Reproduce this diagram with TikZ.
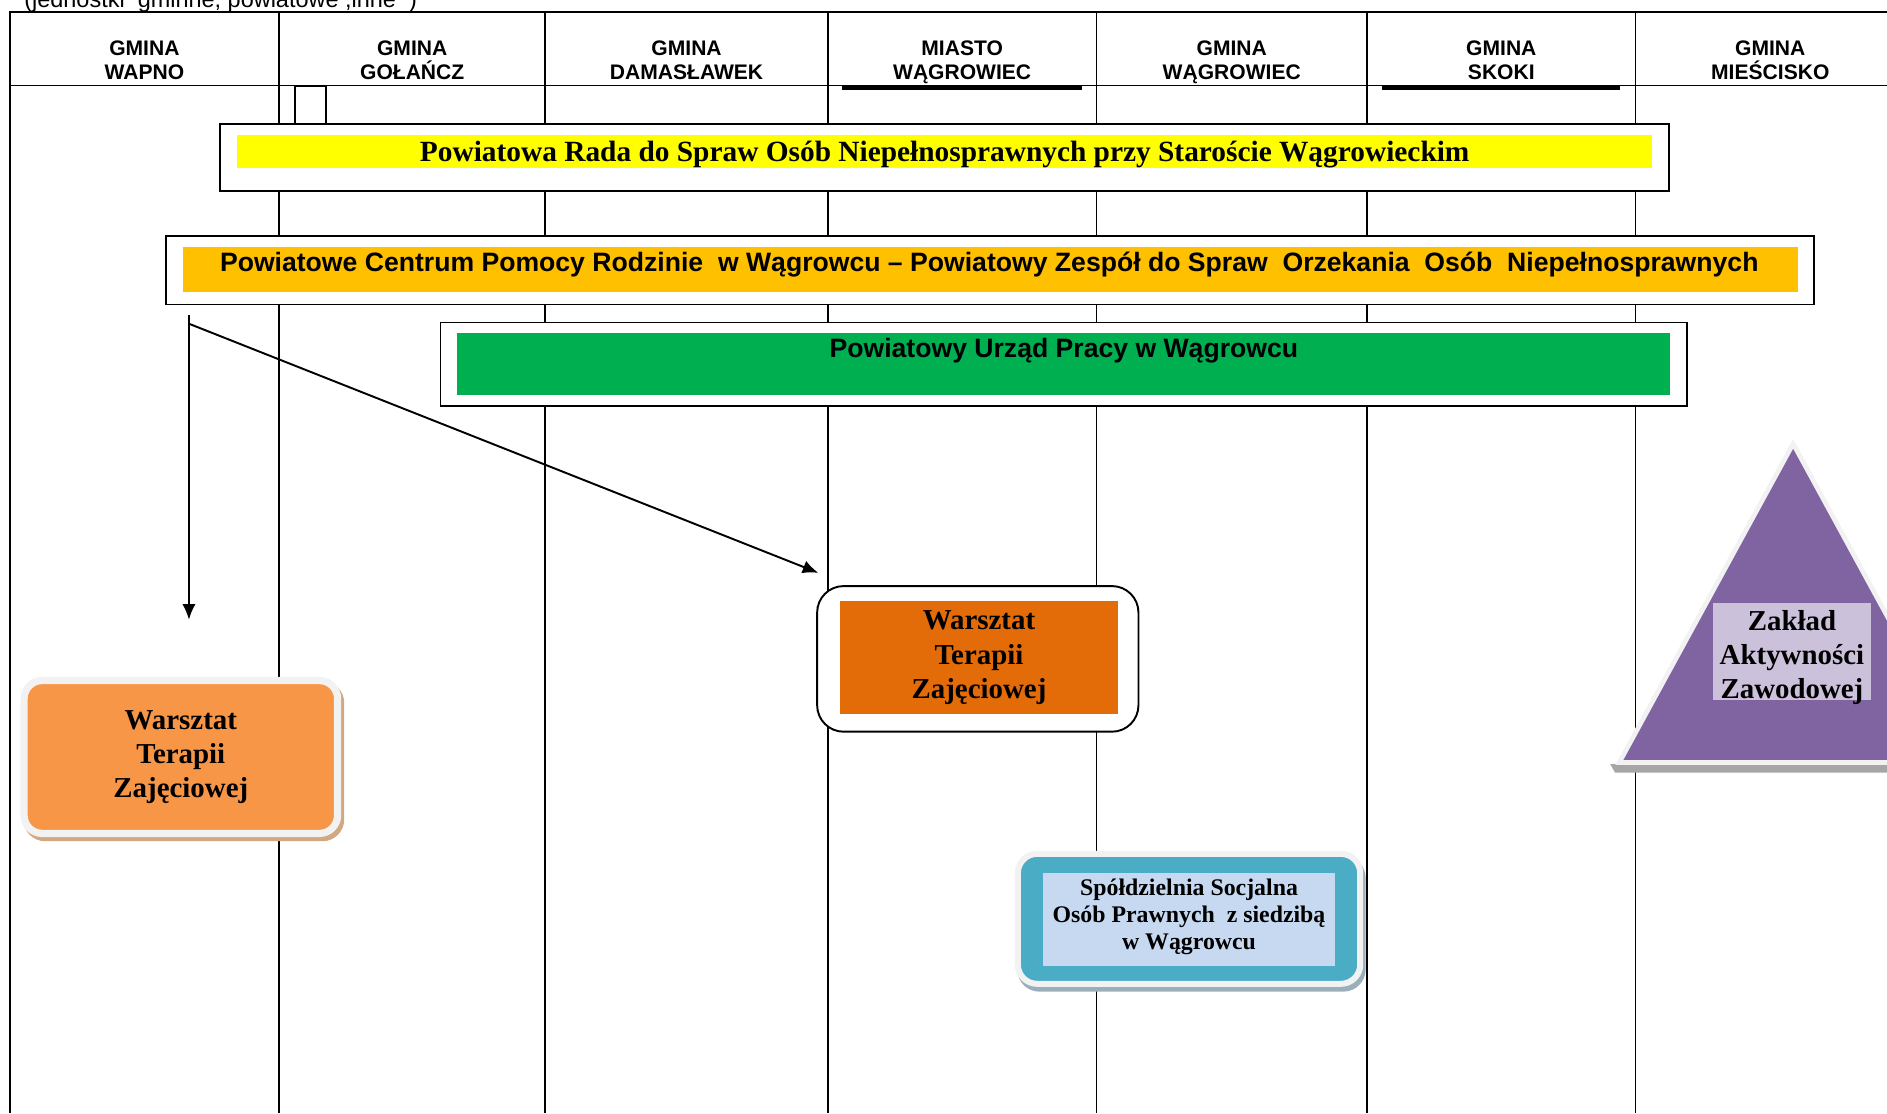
\documentclass[tikz,border=0pt]{standalone}
\usepackage{fontspec}
\setmainfont{Liberation Serif}
\setsansfont{Liberation Sans}
\usepackage{tikz}
\usepackage{color}
\usetikzlibrary{shapes.geometric, arrows.meta, shadows}
\definecolor{zolty}{HTML}{FFFF00}
\definecolor{pomPCPR}{HTML}{FFC000}
\definecolor{zielony}{HTML}{00B050}
\definecolor{pomJasny}{HTML}{F79646}
\definecolor{pomCiemny}{HTML}{E36C09}
\definecolor{turkus}{HTML}{4BACC6}
\definecolor{niebJasny}{HTML}{C6D9F1}
\definecolor{fiolet}{HTML}{8064A2}
\definecolor{lawenda}{HTML}{CCC1DA}
\definecolor{poswiata}{HTML}{F2F2F2}
\definecolor{cienWTZ}{HTML}{D2A883}
\definecolor{cienSS}{HTML}{9AAFBB}
\definecolor{cienZAZ}{HTML}{A6A6A6}
\tikzstyle{arrow} = [line width=1.6pt,-{Latex[length=13pt,width=11pt]}]
\tikzstyle{kolumna} = [line width=1.2pt]
\tikzstyle{naglowek} = [font=\sffamily\bfseries\fontsize{17.5}{20}\selectfont, align=center, inner sep=0pt, anchor=north]
\tikzstyle{ramka} = [draw, fill=white, line width=1.6pt, inner sep=0pt]
\tikzstyle{pasek} = [inner sep=0pt]
\tikzstyle{tekstsans} = [font=\sffamily\bfseries\fontsize{22.1}{26}\selectfont, inner sep=0pt, anchor=base]
\tikzstyle{tekstszeryf} = [font=\bfseries\fontsize{24.4}{28}\selectfont, inner sep=0pt, anchor=base]
\tikzstyle{wtz} = [font=\bfseries\fontsize{24}{28.5}\selectfont, align=center, inner sep=0pt]

\begin{document}
\begin{tikzpicture}[x=1pt,y=-1pt]
\useasboundingbox (0,0) rectangle (1568,925);
\node[font=\sffamily\fontsize{19.5}{22}\selectfont, anchor=base west, inner sep=0pt] (opis) at (20,6) {(jednostki~ gminne, powiatowe ,inne~ )};
% naglowek tabeli
\draw[line width=1.5pt] (8,925) -- (8,10) -- (1568,10);
\draw[line width=1.5pt] (8,71) -- (1568,71);
\draw[kolumna] (232,10) -- (232,925);
\draw[kolumna] (453,10) -- (453,925);
\draw[kolumna] (688,10) -- (688,925);
\draw[kolumna] (911,10) -- (911,925);
\draw[kolumna] (1136,10) -- (1136,925);
\draw[kolumna] (1359,10) -- (1359,925);
\draw[line width=3pt] (700,73) -- (899,73);
\draw[line width=3pt] (1148,73) -- (1346,73);
\draw[kolumna] (245,72) rectangle (271,103);
\node[naglowek] (wapno) at (120,33.5) {GMINA\\WAPNO};
\node[naglowek] (golancz) at (342.5,33.5) {GMINA\\GOŁAŃCZ};
\node[naglowek] (damaslawek) at (570.5,33.5) {GMINA\\DAMASŁAWEK};
\node[naglowek] (miasto) at (799.5,33.5) {MIASTO\\WĄGROWIEC};
\node[naglowek] (gminawagr) at (1023.5,33.5) {GMINA\\WĄGROWIEC};
\node[naglowek] (skoki) at (1247.5,33.5) {GMINA\\SKOKI};
\node[naglowek] (miescisko) at (1471,33.5) {GMINA\\MIEŚCISKO};
% jednostki powiatowe
\node[ramka, minimum width=1204pt, minimum height=56pt] (rada) at (785,131) {};
\node[pasek, fill=zolty, minimum width=1176pt, minimum height=28pt] (radapasek) at (785,126) {};
\node[tekstszeryf] (radatekst) at (785,134.5) {Powiatowa Rada do Spraw Osób Niepełnosprawnych przy Staroście Wągrowieckim};
\node[ramka, minimum width=1369pt, minimum height=57pt] (pcpr) at (822.5,224.5) {};
\node[pasek, fill=pomPCPR, minimum width=1342pt, minimum height=38pt] (pcprpasek) at (823,224) {};
\node[tekstsans] (pcprtekst) at (822,226) {Powiatowe Centrum Pomocy Rodzinie~ w Wągrowcu – Powiatowy Zespół do Spraw~ Orzekania~ Osób~ Niepełnosprawnych};
\node[ramka, minimum width=1036pt, minimum height=69pt] (pup) at (884,302.5) {};
\node[pasek, fill=zielony, minimum width=1008pt, minimum height=51pt] (puppasek) at (884,302.5) {};
\node[tekstsans] (puptekst) at (884,297) {Powiatowy Urząd Pracy w Wągrowcu};
% placowki
\node[wtz, fill=pomJasny, draw=poswiata, line width=6pt, rounded corners=15pt, minimum width=260.5pt, minimum height=127pt,
  drop shadow={fill=cienWTZ, draw=cienWTZ, line width=6pt, shadow xshift=2.5pt, shadow yshift=-3.5pt, opacity=1}] (wtzwapno) at (150.25,629) {Warsztat\\Terapii\\Zajęciowej};
\node[ramka, rounded corners=22pt, minimum width=267pt, minimum height=121pt] (wtzmiasto) at (812.5,547.5) {};
\node[wtz, fill=pomCiemny, minimum width=231pt, minimum height=94pt] (wtzmiastotekst) at (813.5,546.5) {Warsztat\\Terapii\\Zajęciowej};
\node[fill=turkus, draw=poswiata, line width=5pt, rounded corners=16pt, inner sep=0pt, minimum width=284.5pt, minimum height=108pt,
  drop shadow={fill=cienSS, draw=cienSS, line width=5pt, shadow xshift=2pt, shadow yshift=-4pt, opacity=1}] (spoldzielnia) at (988,763.5) {};
\node[pasek, fill=niebJasny, minimum width=243pt, minimum height=77pt] (spoldzielniapasek) at (988,764) {};
\node[align=center, inner sep=0pt, font=\bfseries\fontsize{19.8}{22.5}\selectfont] (spoldzielniatekst) at (988,762) {Spółdzielnia Socjalna\\Osób Prawnych~ z siedzibą\\w Wągrowcu};
\fill[cienZAZ] (1338,635) -- (1640,635) -- (1640,642) -- (1342,642) -- cycle;
\draw[poswiata, line width=8pt, line join=miter] (1490,373) -- (1349,631.5) -- (1631,631.5) -- cycle;
\fill[fiolet] (1490,373) -- (1349,631.5) -- (1631,631.5) -- cycle;
\node[pasek, fill=lawenda, minimum width=132pt, minimum height=81pt] (zaz) at (1489,541.5) {};
\node[wtz] (zaztekst) at (1489,546.5) {Zakład\\Aktywności\\Zawodowej};
% strzalki
\coordinate (pcprwyjscie) at (157,262);
\coordinate (pcprwyjscie2) at (157,269);
\coordinate (wapnowejscie) at (157,515);
\coordinate (miastowejscie) at (680,476);
\draw[arrow] (pcprwyjscie) -- (wapnowejscie);
\draw[arrow] (pcprwyjscie2) -- (miastowejscie);
\end{tikzpicture}
\end{document}
